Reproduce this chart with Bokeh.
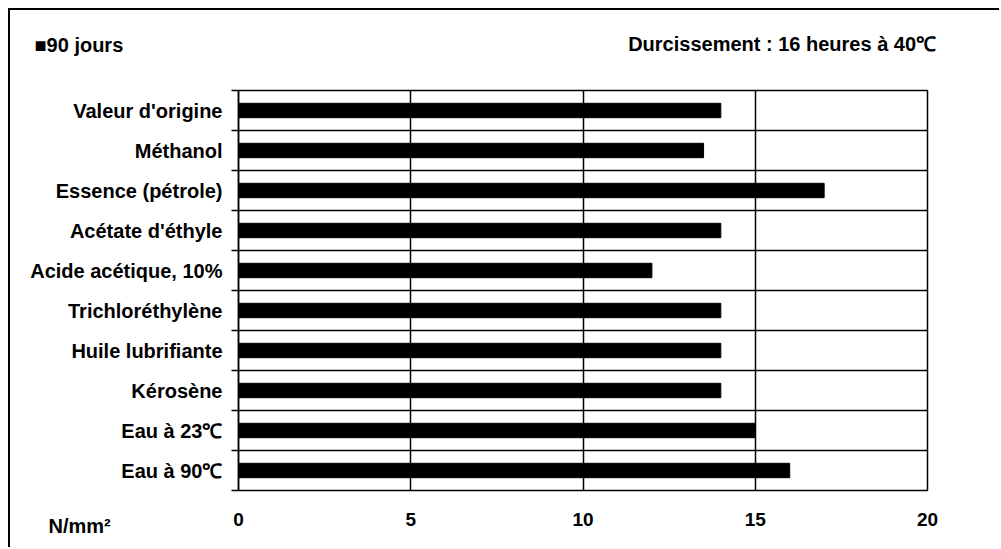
from bokeh.plotting import figure
from bokeh.models import Range1d, FixedTicker, ColumnDataSource, Title, LinearAxis
from bokeh.embed import file_html
from bokeh.resources import INLINE

categories = ["Valeur d'origine", "Méthanol", "Essence (pétrole)", "Acétate d'éthyle",
              "Acide acétique, 10%", "Trichloréthylène", "Huile lubrifiante",
              "Kérosène", "Eau à 23℃", "Eau à 90℃"]
values_90j = [14.0, 13.5, 17.0, 14.0, 12.0, 14.0, 14.0, 14.0, 15.0, 16.0]
x_ticks = [0, 5, 10, 15, 20]
series_name = "90 jours"
title_text = "Durcissement : 16 heures à 40℃"
unit_text = "N/mm²"

FONT = "Liberation Sans"
FS = "20px"
FS_TICK = "19px"

n = len(categories)
centers = [i + 0.5 for i in range(n)]
bounds = [float(i) for i in range(n + 1)]

p = figure(width=991, height=539, output_backend="svg", toolbar_location=None,
           x_range=Range1d(0, 20), y_range=Range1d(n, 0),
           min_border_left=228, min_border_top=80, min_border_right=74, min_border_bottom=59)
p.styles = {"border-left": "2px solid black", "border-top": "2px solid black",
            "margin-left": "8px", "margin-top": "8px"}
p.outline_line_color = "black"
p.outline_line_width = 1.5
p.background_fill_color = "white"
p.border_fill_color = "white"

src = ColumnDataSource(dict(y=centers, right=values_90j))
p.hbar(y="y", right="right", left=0, height=0.36, source=src, color="black")

# x axis
p.xaxis.ticker = FixedTicker(ticks=x_ticks)
p.xaxis.axis_line_color = None
p.xaxis.major_tick_line_color = None
p.xaxis.minor_tick_line_color = None
p.xaxis.major_label_standoff = 16
p.xaxis.major_label_text_font = FONT
p.xaxis.major_label_text_font_style = "bold"
p.xaxis.major_label_text_font_size = FS_TICK
p.xaxis.major_label_text_color = "black"

# y axis
p.yaxis.ticker = FixedTicker(ticks=centers, minor_ticks=bounds)
p.yaxis.major_label_overrides = {c: cat for c, cat in zip(centers, categories)}
p.yaxis.major_tick_line_color = None
p.yaxis.minor_tick_out = 7
p.yaxis.minor_tick_in = 0
p.yaxis.minor_tick_line_color = "black"
p.yaxis.minor_tick_line_width = 1.5
p.yaxis.axis_line_color = "black"
p.yaxis.axis_line_width = 1.5
p.yaxis.major_label_standoff = 9
p.yaxis.major_label_text_font = FONT
p.yaxis.major_label_text_font_style = "bold"
p.yaxis.major_label_text_font_size = FS
p.yaxis.major_label_text_color = "black"

# grids
p.xgrid.ticker = FixedTicker(ticks=x_ticks)
p.xgrid.grid_line_color = "black"
p.xgrid.grid_line_width = 1.5
p.ygrid.grid_line_color = None
p.ygrid.minor_grid_line_color = "black"
p.ygrid.minor_grid_line_width = 1.5

# right-hand header text, carried by an axis above the frame
title_pos = 15.78
top_axis = LinearAxis(ticker=FixedTicker(ticks=[title_pos]),
                      major_label_overrides={title_pos: title_text},
                      axis_line_color=None, major_tick_line_color=None,
                      minor_tick_line_color=None, major_tick_out=0, major_tick_in=0,
                      minor_tick_out=0, minor_tick_in=0,
                      major_label_standoff=36, major_label_text_font=FONT,
                      major_label_text_font_style="bold", major_label_text_font_size=FS,
                      major_label_text_color="black")
p.add_layout(top_axis, "above")

# legend-like header and unit text
tstyle = dict(text_font=FONT, text_font_style="bold", text_font_size=FS, text_color="black")
p.add_layout(Title(text="■" + series_name, align="left", offset=-204, standoff=-53, **tstyle), "above")
p.add_layout(Title(text=unit_text, align="left", offset=-190, standoff=-28,
                   vertical_align="top", **tstyle), "below")

open("out.html", "w").write(file_html(p, INLINE))
